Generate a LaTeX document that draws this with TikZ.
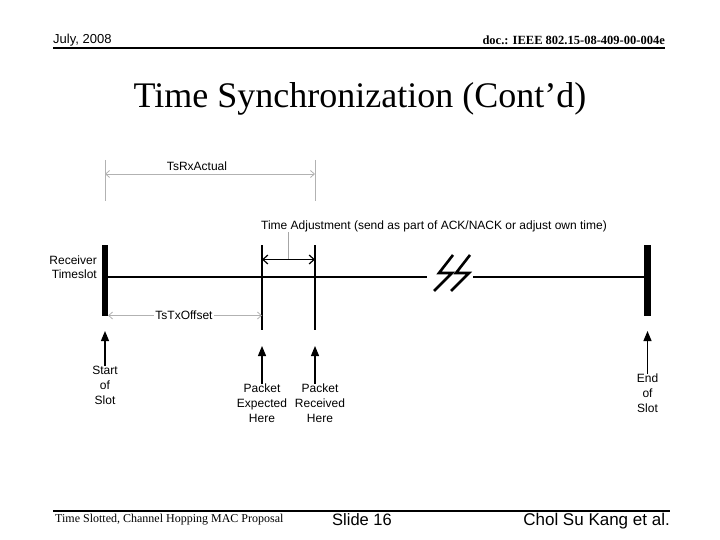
\documentclass[tikz,border=0pt]{standalone}
\usepackage{fontspec}
\setmainfont{Liberation Sans}
\newfontfamily\timesfont{Liberation Serif}
\usepackage{tikz}
\usetikzlibrary{arrows.meta}

\begin{document}
\begin{tikzpicture}[x=1pt, y=-1pt,
    every node/.style={inner sep=0pt, font=\fontsize{12}{15}\selectfont},
    slotbar/.style={fill=black, minimum width=6.5pt, minimum height=71pt},
    marker/.style={line width=1.2pt},
    dimline/.style={gray!60, line width=0.8pt},
    dimarrow/.style={gray!60, line width=0.8pt, {Straight Barb[length=4pt,width=7pt]}-{Straight Barb[length=4pt,width=7pt]}},
    uparrow/.style={line width=1.2pt, -{Triangle[length=10pt,width=8pt]}}]
    \useasboundingbox (0,0) rectangle (720,540);

    % Header and footer
    \node[anchor=base west, font=\fontsize{13}{15}\selectfont] (date) at (53,44) {July, 2008};
    \node[anchor=base east, font=\timesfont\bfseries\fontsize{12.5}{15}\selectfont] (docid) at (665,45) {doc.: IEEE 802.15-08-409-00-004e};
    \draw[line width=2pt] (date.base west) ++(0,4) coordinate (hdrL) -- (hdrL -| docid.east);
    \node[font=\timesfont\fontsize{36}{40}\selectfont] (title) at (360,99) {Time Synchronization (Cont’d)};
    \node[anchor=base west, font=\timesfont\fontsize{12}{14}\selectfont] (proposal) at (55,522) {Time Slotted, Channel Hopping MAC Proposal};
    \node[anchor=base west, font=\fontsize{16.5}{18}\selectfont] (slide) at (332,525) {Slide 16};
    \node[anchor=base east, font=\fontsize{17}{19}\selectfont] (authors) at (670,525) {Chol Su Kang et al.};
    \draw[line width=2pt] (53,510.5) coordinate (ftrL) -- (ftrL -| authors.east);

    % Slot bars and timeline
    \node[slotbar] (startbar) at (105,280.5) {};
    \node[slotbar] (endbar) at (647.5,280.5) {};
    \node[anchor=east, align=right, font=\fontsize{12}{14}\selectfont] (rxslot) at (97,267) {Receiver\\Timeslot};
    \coordinate (brkL) at (427,277);
    \coordinate (brkR) at (473,277);
    \draw[line width=1.2pt] (startbar.center |- brkL) -- (brkL);
    \draw[line width=1.2pt] (brkR) -- (endbar.center |- brkR);
    \foreach \dx in {0,17} {
        \draw[line width=2.6pt] (453+\dx,255) -- (439+\dx,273) -- (452+\dx,273) -- (434+\dx,291);
    }

    % Packet markers
    \foreach \name/\x in {exp/262, rcv/315} {
        \coordinate (\name-top) at (\x,245);
        \coordinate (\name-bot) at (\x,330);
        \draw[marker] (\name-top) -- (\name-bot);
    }

    % Time adjustment
    \coordinate (adjL) at (262,259.5);
    \coordinate (adjR) at (315,259.5);
    \coordinate (adjmid) at (288.5,259.5);
    \node (adjtext) at (434,226.5) {Time Adjustment (send as part of ACK/NACK or adjust own time)};
    \draw[gray!70, line width=0.8pt] (adjmid) -- (adjmid |- adjtext.south);
    \draw[line width=1.2pt, {Straight Barb[length=5pt,width=9pt]}-{Straight Barb[length=5pt,width=9pt]}] (adjL) -- (adjR);

    % TsRxActual
    \foreach \name/\x in {rxa/105, rxb/315} {
        \coordinate (\name-top) at (\x,160);
        \coordinate (\name-bot) at (\x,201);
        \draw[dimline] (\name-top) -- (\name-bot);
    }
    \draw[dimarrow] (rxa-top |- 0,174) -- (rxb-top |- 0,174);
    \node (rxactual) at (197,166) {TsRxActual};

    % TsTxOffset
    \coordinate (txL) at (108,315.5);
    \coordinate (txR) at (262,315.5);
    \draw[dimarrow] (txL) -- (txR);
    \node[fill=white, inner xsep=1pt, inner ysep=2pt] (txoffset) at (184,315.5) {TsTxOffset};

    % Event arrows
    \foreach \name/\x/\tip/\ly/\txt in {start/105/331/366/{Start\\of\\Slot},
            expect/262/346/384/{Packet\\Expected\\Here},
            recv/320/346/384/{Packet\\Received\\Here},
            end/647.5/331/374/{End\\of\\Slot}} {
        \node[anchor=north, align=center] (\name-lbl) at (\x,\ly) {\txt};
        \coordinate (\name-tip) at (\x,\tip);
    }
    \draw[uparrow] (start-lbl.north) -- (start-tip);
    \draw[uparrow] (expect-lbl.north -| exp-top) -- (exp-top |- expect-tip);
    \draw[uparrow] (recv-lbl.north -| rcv-top) -- (rcv-top |- recv-tip);
    \draw[uparrow] (end-lbl.north) -- (end-tip);
\end{tikzpicture}
\end{document}
